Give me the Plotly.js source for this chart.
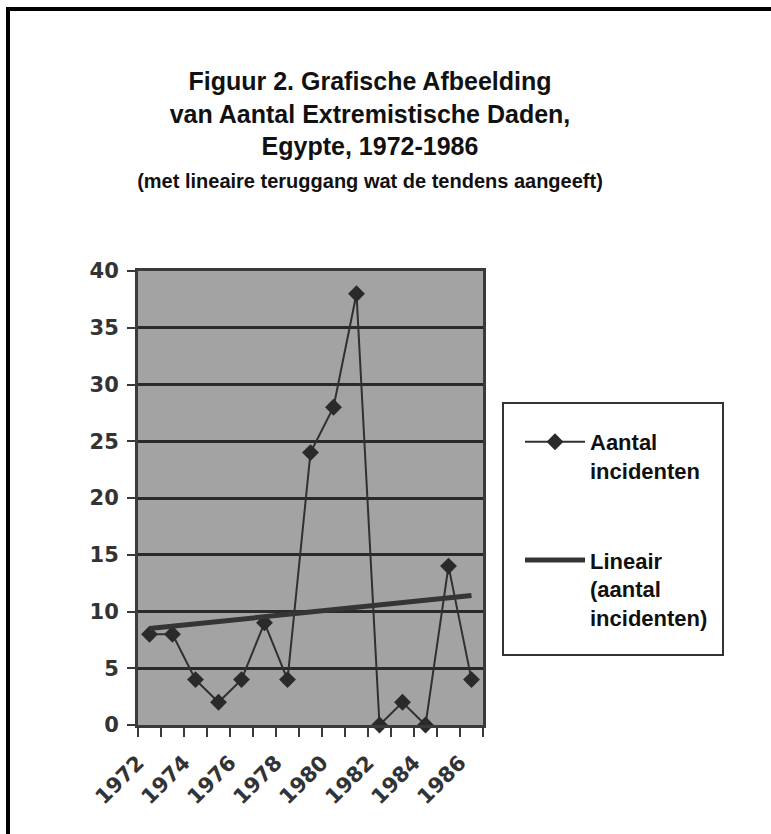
<!DOCTYPE html>
<html>
<head>
<meta charset="utf-8">
<script src="https://cdn.plot.ly/plotly-3.0.1.min.js"></script>
<style>
  html, body { margin: 0; padding: 0; background: #ffffff; }
  #chart { width: 771px; height: 834px; }
</style>
</head>
<body>
<div id="chart"></div>
<script>
// ---- data ----
const years = [1972, 1973, 1974, 1975, 1976, 1977, 1978, 1979, 1980, 1981, 1982, 1983, 1984, 1985, 1986];
const incidents = [8, 8, 4, 2, 4, 9, 4, 24, 28, 38, 0, 2, 0, 14, 4];
const trendYears = [1972, 1986];
const trendValues = [8.5, 11.4];
const tickYears = [1972, 1974, 1976, 1978, 1980, 1982, 1984, 1986];
const yTicks = [0, 5, 10, 15, 20, 25, 30, 35, 40];

const seriesName = 'Aantal<br>incidenten';
const trendName = 'Lineair<br>(aantal<br>incidenten)';

const titleText = 'Figuur 2. Grafische Afbeelding<br>van Aantal Extremistische Daden,<br>Egypte, 1972-1986<br>' +
  '<span style="font-size:20px">(met lineaire teruggang wat de tendens aangeeft)</span>';

// ---- layout helpers (pixel geometry of the figure) ----
const W = 771, H = 834;
const M = { l: 138, r: 288, t: 271, b: 109 };
const pw = W - M.l - M.r, ph = H - M.t - M.b;
const px2x = p => (p - M.l) / pw;
const py2y = p => (H - M.b - p) / ph;

const traces = [
  {
    type: 'scatter', mode: 'lines+markers',
    x: years, y: incidents, name: seriesName,
    legendgroup: 'a',
    line: { color: '#303030', width: 2 },
    marker: { symbol: 'diamond', size: 13, color: '#2a2a2a' },
    cliponaxis: false
  },
  {
    type: 'scatter', mode: 'lines',
    x: trendYears, y: trendValues, name: trendName,
    legendgroup: 'b',
    line: { color: '#353535', width: 5 }
  }
];

const tickFont = { family: '"DejaVu Sans", sans-serif', size: 21, weight: 'bold', color: '#333333' };

const layout = {
  width: W, height: H,
  margin: M,
  paper_bgcolor: '#ffffff',
  plot_bgcolor: '#a3a3a3',
  font: { family: '"Liberation Sans", Arial, sans-serif', color: '#333333' },
  title: {
    text: titleText,
    font: { family: '"Liberation Sans", Arial, sans-serif', size: 25, weight: 'bold', color: '#111111' },
    x: 370 / W, xanchor: 'center', xref: 'container',
    y: 1 - 90 / H, yanchor: 'top', yref: 'container'
  },
  xaxis: {
    type: 'linear',
    range: [years[0] - 0.5, years[years.length - 1] + 0.5],
    tickvals: tickYears.map(v => v - 0.5),
    ticktext: tickYears.map(String),
    tickangle: -45,
    ticks: '',
    ticklabelstandoff: 14,
    tickfont: tickFont,
    showgrid: false, zeroline: false,
    showline: true, linecolor: '#3a3a3a', linewidth: 3, mirror: true,
    minor: { tick0: years[0] - 0.5, dtick: 1, ticks: 'outside', ticklen: 9, tickwidth: 2, tickcolor: '#3a3a3a', showgrid: false },
    fixedrange: true
  },
  yaxis: {
    range: [0, 40],
    tickvals: yTicks,
    ticks: 'outside', ticklen: 8, tickwidth: 2, tickcolor: '#3a3a3a',
    ticklabelstandoff: 4,
    tickfont: tickFont,
    showgrid: true, gridcolor: '#2a2a2a', gridwidth: 3,
    zeroline: false,
    showline: true, linecolor: '#3a3a3a', linewidth: 3, mirror: true,
    fixedrange: true
  },
  showlegend: true,
  legend: {
    x: px2x(520), xanchor: 'left',
    y: py2y(421), yanchor: 'top',
    bgcolor: 'rgba(0,0,0,0)', borderwidth: 0,
    font: { size: 22, weight: 'bold', color: '#111111' },
    valign: 'top',
    traceorder: 'grouped',
    tracegroupgap: 58,
    itemwidth: 60
  },
  shapes: [
    // legend box
    { type: 'rect', xref: 'paper', yref: 'paper',
      x0: px2x(503), x1: px2x(723), y0: py2y(655), y1: py2y(403),
      line: { color: '#333333', width: 2 }, fillcolor: 'rgba(0,0,0,0)' },
    // outer frame (left and top edges visible)
    { type: 'rect', xref: 'paper', yref: 'paper',
      x0: px2x(8), x1: px2x(W + 20), y0: py2y(H + 20), y1: py2y(9),
      line: { color: '#000000', width: 4 }, fillcolor: 'rgba(0,0,0,0)' }
  ]
};

Plotly.newPlot('chart', traces, layout, { displayModeBar: false, staticPlot: true });
</script>
</body>
</html>
